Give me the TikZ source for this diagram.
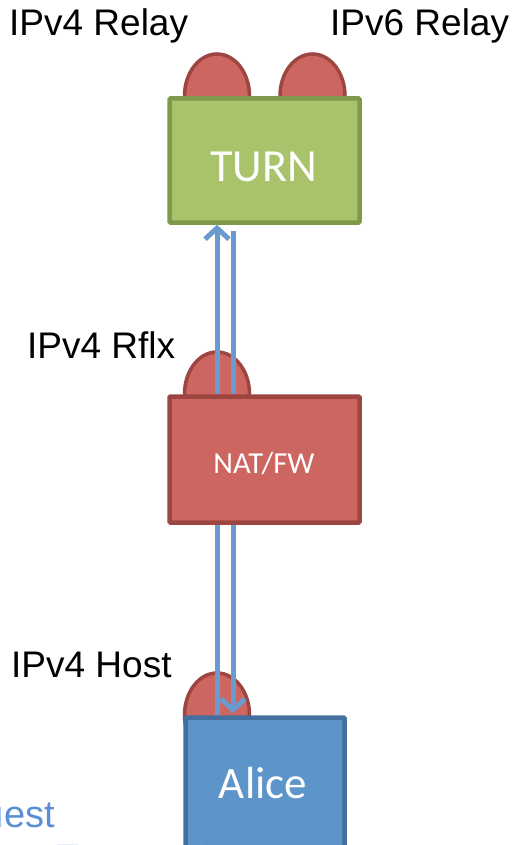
\documentclass[tikz,border=0pt]{standalone}
\usepackage{fontspec}
\setmainfont{Liberation Sans}
\newfontfamily\calib{Carlito}
\usetikzlibrary{arrows.meta,shapes.geometric}
\definecolor{grfill}{HTML}{A9C36A}
\definecolor{grline}{HTML}{7E994A}
\definecolor{rdfill}{HTML}{CD6560}
\definecolor{rdline}{HTML}{9C4541}
\definecolor{blfill}{HTML}{5D94CA}
\definecolor{blline}{HTML}{44709F}
\definecolor{flowc}{HTML}{6A9BCF}
\definecolor{txtblue}{HTML}{5B8FD5}
\begin{document}
\begin{tikzpicture}[x=1pt,y=-1pt,
  bump/.style={ellipse,draw=rdline,fill=rdfill,line width=3.5pt,minimum width=65pt,minimum height=84pt,inner sep=0pt},
  box/.style={rectangle,line width=4.5pt,inner sep=0pt,rounded corners=1pt},
  lbl/.style={anchor=base west,inner sep=0pt,font=\fontsize{37}{40}\selectfont},
  boxtxt/.style={anchor=base,inner sep=0pt,text=white},
  flow/.style={draw=flowc,line width=5pt},
  vtip/.style={-{Straight Barb[length=11pt,width=24pt]}}
]
\useasboundingbox (0,0) rectangle (517,845);
\clip (0,0) rectangle (517,845);

% bumps
\node[bump] (r4) at (217,96) {};
\node[bump] (r6) at (312.5,96) {};
\node[bump] (rflx) at (217,394) {};
\node[bump] (host) at (217,715) {};

% boxes
\node[box,draw=grline,fill=grfill,minimum width=190pt,minimum height=124pt] (turn) at (264.5,160.5) {};
\node[box,draw=rdline,fill=rdfill,minimum width=190pt,minimum height=126pt] (nat) at (264.5,459.5) {};
\node[box,draw=blline,fill=blfill,minimum width=159pt,minimum height=200pt] (alice) at (265,817.5) {};

% box texts
\node[boxtxt,font=\calib\fontsize{46}{50}\selectfont] (turnt) at (263.5,181.5) {TURN};
\node[boxtxt,font=\calib\fontsize{30.5}{34}\selectfont] (natt) at (264,473) {NAT/FW};
\node[boxtxt,font=\calib\fontsize{45}{50}\selectfont] (alicet) at (263,798) {Alice};

% labels
\node[lbl] (l4r) at (9,36) {IPv4 Relay};
\node[lbl] (l6r) at (330,36) {IPv6 Relay};
\node[lbl] (l4f) at (27,358) {IPv4 Rflx};
\node[lbl] (l4h) at (11,677) {IPv4 Host};

% partial blue text
\node[anchor=base east,inner sep=0pt,text=txtblue,font=\fontsize{38}{42}\selectfont] (req) at (55,827) {Request};
\node[anchor=base west,inner sep=0pt,text=txtblue,font=\fontsize{38}{42}\selectfont] (tr) at (56,871) {Transaction};

% flows
\draw[flow,vtip] ([xshift=-47.5pt]nat.north) -- ([xshift=-47.5pt]turn.south);
\draw[flow,shorten >=6pt] ([xshift=-31.5pt]nat.north) -- ([xshift=-31.5pt]turn.south);
\draw[flow] ([xshift=-47.5pt]nat.south) -- ([xshift=-48pt]alice.north);
\draw[flow,vtip] ([xshift=-31.5pt]nat.south) -- ([xshift=-32pt,yshift=2pt]alice.north);
\end{tikzpicture}
\end{document}
